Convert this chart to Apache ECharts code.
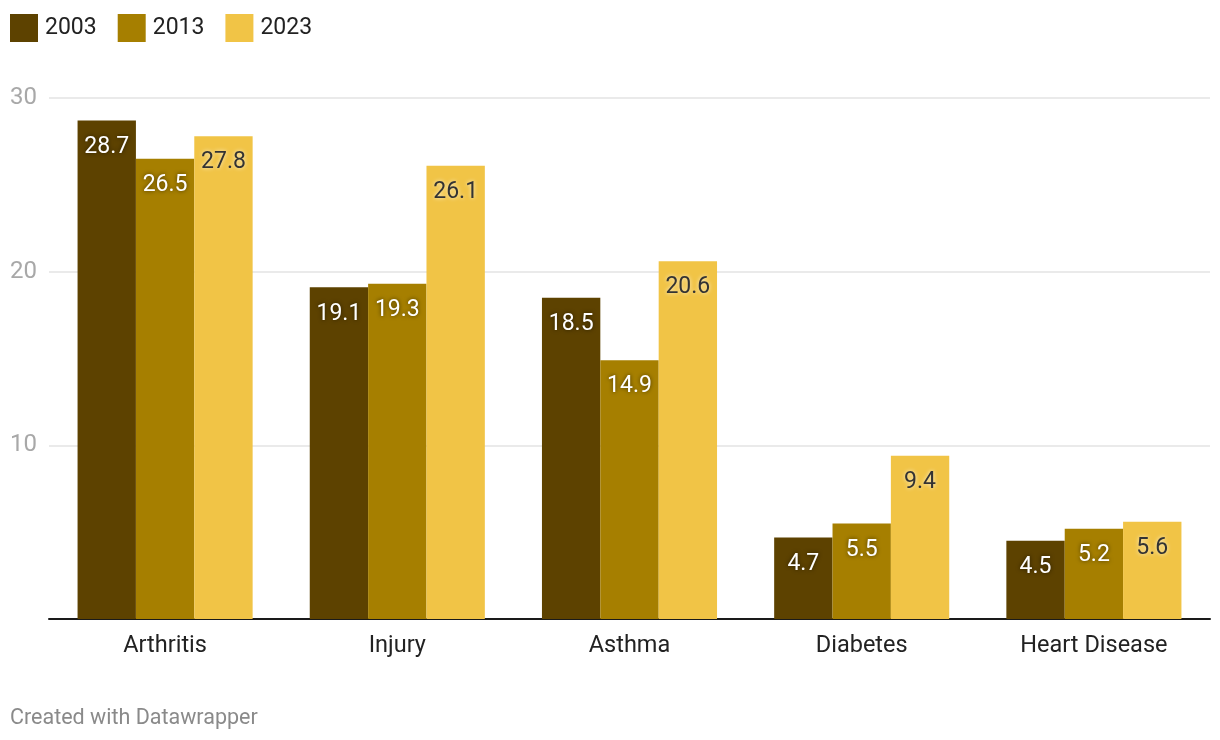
<!DOCTYPE html>
<html>
<head>
<meta charset="utf-8">
<script src="https://cdn.jsdelivr.net/npm/echarts@6/dist/echarts.min.js"></script>
<style>
html,body{margin:0;padding:0;background:#fff;}
#c{width:1220px;height:740px;}
</style>
</head>
<body>
<div id="c"></div>
<script>
const categories = ["Arthritis", "Injury", "Asthma", "Diabetes", "Heart Disease"];
const seriesNames = ["2003", "2013", "2023"];
const values2003 = [28.7, 19.1, 18.5, 4.7, 4.5];
const values2013 = [26.5, 19.3, 14.9, 5.5, 5.2];
const values2023 = [27.8, 26.1, 20.6, 9.4, 5.6];
const colors = ["#5d4200", "#a67f00", "#f1c446"];

const FONT = "Roboto, 'Noto Sans', sans-serif";
const darkLabel = {color:"#ffffff", textShadowColor:"rgba(0,0,0,0.6)", textShadowBlur:4};
const lightLabel = {color:"#333333", textShadowColor:"rgba(255,255,255,0.8)", textShadowBlur:4};

function mk(name, data, color, lbl){
  return {
    name: name, type: "bar", data: data,
    barGap: "0%", barCategoryGap: "24.6%",
    itemStyle: {color: color},
    label: Object.assign({show:true, position:"insideTop", distance:15, fontSize:23, fontFamily:FONT,
      formatter: p => p.value.toFixed(1)}, lbl)
  };
}

const chart = echarts.init(document.getElementById("c"), null, {renderer:"canvas"});
chart.setOption({
  backgroundColor:"#fff",
  animation:false,
  legend:{
    left:10, top:14, padding:0, itemWidth:28, itemHeight:28, itemGap:21,
    icon:"rect",
    textStyle:{fontSize:23, color:"#222", fontFamily:FONT, padding:[2,0,0,2]},
    data: seriesNames
  },
  grid:{left:49, right:10, top:98, bottom:121, containLabel:false},
  xAxis:{
    type:"category", data:categories,
    axisLine:{lineStyle:{color:"#1a1a1a", width:2}},
    axisTick:{show:false},
    axisLabel:{fontSize:23.5, color:"#222", fontFamily:FONT, margin:15}
  },
  yAxis:{
    type:"value", min:0, max:30, interval:10,
    axisLine:{show:false}, axisTick:{show:false},
    splitLine:{lineStyle:{color:"#e3e3e3", width:1.5}},
    axisLabel:{fontSize:24, color:"#a8a8a8", fontFamily:FONT, align:"left", margin:39,
      formatter: v => v === 0 ? "" : String(v)}
  },
  graphic:[{type:"text", left:10, top:708, style:{text:"Created with Datawrapper", fontSize:21.5, fill:"#8a8a8a", fontFamily:FONT}}],
  series:[
    mk(seriesNames[0], values2003, colors[0], darkLabel),
    mk(seriesNames[1], values2013, colors[1], darkLabel),
    mk(seriesNames[2], values2023, colors[2], lightLabel)
  ]
});
</script>
</body>
</html>
